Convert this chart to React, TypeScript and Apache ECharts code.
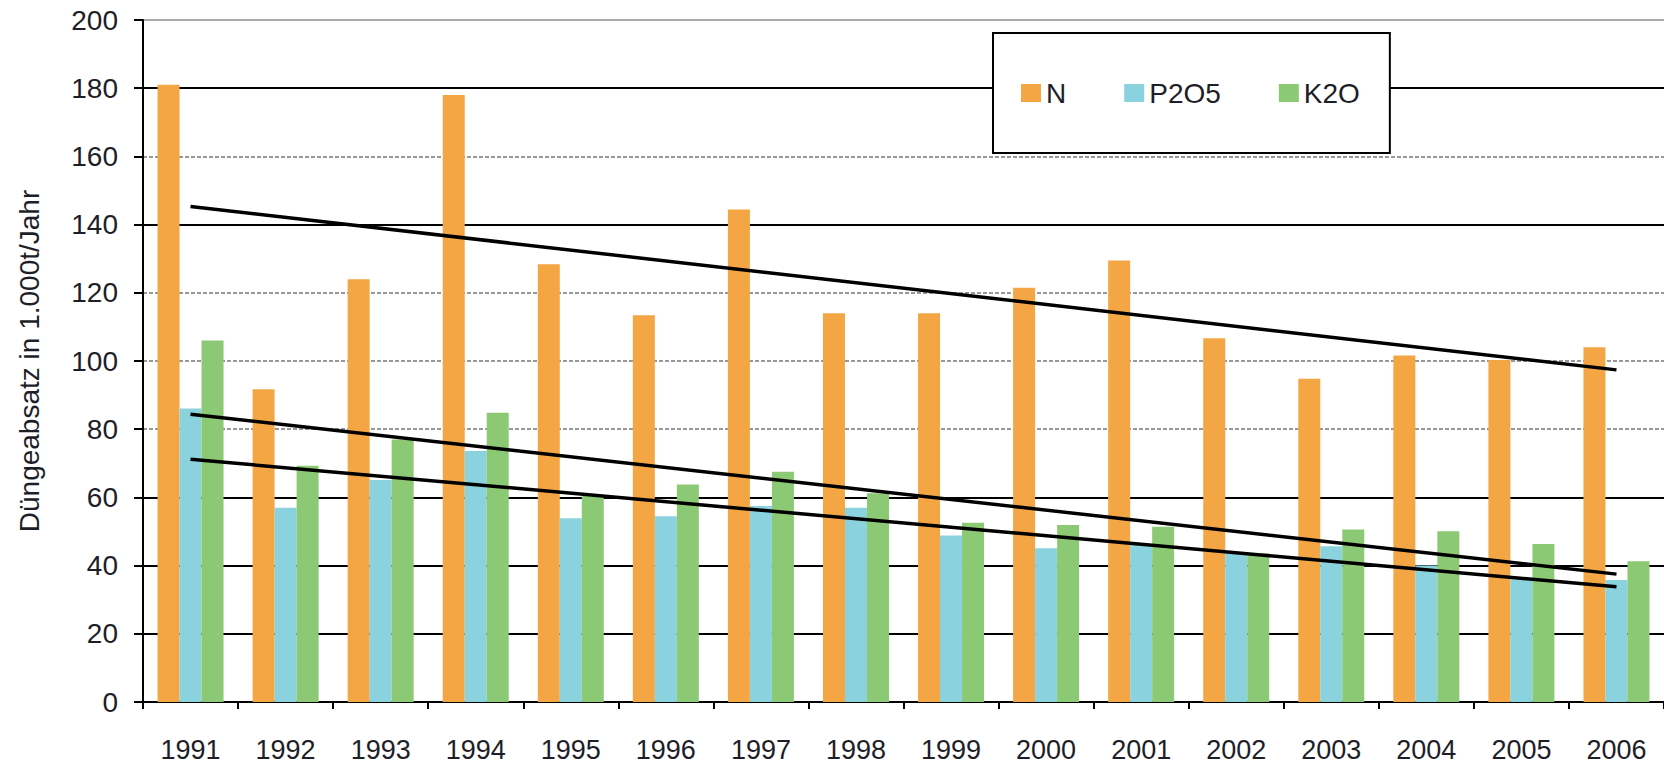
import React, { useEffect, useRef } from "react";
import * as echarts from "echarts";

const years = ["1991","1992","1993","1994","1995","1996","1997","1998","1999","2000","2001","2002","2003","2004","2005","2006"];
const nValues = [181, 91.7, 124, 178, 128.4, 113.4, 144.4, 114, 114, 121.5, 129.5, 106.7, 94.8, 101.6, 100.3, 104];
const p2o5Values = [86.1, 57, 65.1, 73.6, 53.9, 54.5, 57.5, 57, 48.8, 45.1, 46.3, 43.6, 45.7, 40, 36, 35.8];
const k2oValues = [106, 69.3, 77, 84.8, 60.7, 63.8, 67.5, 61.2, 52.6, 51.9, 51.4, 43.6, 50.6, 50.1, 46.3, 41.3];
const trendYears = ["1991", "2006"];
const trendN = [145.3, 97.4];
const trendP2O5 = [71.2, 33.8];
const trendK2O = [84.4, 37.5];

const FONT = "'Liberation Sans', Arial, sans-serif";
const TXT = "#1e1e28";

export default function App() {
  const ref = useRef<HTMLDivElement>(null);
  useEffect(() => {
    if (!ref.current) return;
    const chart = echarts.init(ref.current, null, { renderer: "svg" });
    const trend = (name: string, vals: number[]) => ({
      name,
      type: "line",
      data: trendYears.map((y, i) => [y, vals[i]]),
      symbol: "none",
      lineStyle: { color: "#000", width: 3.5 },
      z: 5,
      silent: true,
    });
    chart.setOption({
      animation: false,
      backgroundColor: "#fff",
      textStyle: { fontFamily: FONT },
      grid: { left: 143, top: 20, bottom: 64, right: -12, containLabel: false },
      legend: {
        data: ["N", "P2O5", "K2O"],
        icon: "rect",
        left: 993,
        top: 33,
        width: 401,
        padding: [46, 30, 46, 28],
        itemGap: 58,
        itemWidth: 20,
        itemHeight: 18,
        borderColor: "#000",
        borderWidth: 2,
        backgroundColor: "#fff",
        textStyle: { fontSize: 28, color: TXT, fontFamily: FONT },
        z: 10,
      },
      xAxis: {
        type: "category",
        data: years,
        axisLine: { lineStyle: { color: "#000", width: 2 } },
        axisTick: { show: true, length: 7, lineStyle: { color: "#000", width: 2 } },
        axisLabel: { fontSize: 27, color: TXT, margin: 34, fontFamily: FONT },
        splitLine: { show: false },
      },
      yAxis: [
        {
          type: "value",
          min: 0,
          max: 200,
          interval: 20,
          name: "Düngeabsatz in 1.000t/Jahr",
          nameLocation: "middle",
          nameRotate: 90,
          nameGap: 100,
          nameTextStyle: { fontSize: 28, color: TXT, fontFamily: FONT },
          axisLine: { show: true, lineStyle: { color: "#000", width: 2 } },
          axisTick: { show: true, length: 9, lineStyle: { color: "#000", width: 2 } },
          axisLabel: { fontSize: 28, color: TXT, margin: 25, fontFamily: FONT },
          splitLine: {
            show: true,
            lineStyle: {
              width: 2,
              color: ["transparent", "#000", "#000", "#000", "transparent", "transparent", "transparent", "#000", "transparent", "#000", "#aaa"],
            },
          },
        },
        {
          type: "value",
          min: 0,
          max: 200,
          interval: 20,
          position: "left",
          axisLine: { show: false },
          axisTick: { show: false },
          axisLabel: { show: false },
          splitLine: {
            show: true,
            lineStyle: {
              width: 1.5,
              type: [4, 2],
              color: ["transparent", "transparent", "transparent", "transparent", "#777", "#777", "#777", "transparent", "#777", "transparent", "transparent"],
            },
          },
        },
      ],
      series: [
        { name: "N", type: "bar", data: nValues, barWidth: 22, barGap: "0%", itemStyle: { color: "#F4A645" }, z: 3 },
        { name: "P2O5", type: "bar", data: p2o5Values, barWidth: 22, barGap: "0%", itemStyle: { color: "#8AD2DE" }, z: 3 },
        { name: "K2O", type: "bar", data: k2oValues, barWidth: 22, barGap: "0%", itemStyle: { color: "#8CC974" }, z: 3 },
        trend("trendN", trendN),
        trend("trendP2O5", trendP2O5),
        trend("trendK2O", trendK2O),
      ],
    });
    return () => chart.dispose();
  }, []);
  return (
    <div
      ref={ref}
      style={{ position: "fixed", left: 0, top: 0, width: 1664, height: 766, background: "#fff" }}
    />
  );
}
